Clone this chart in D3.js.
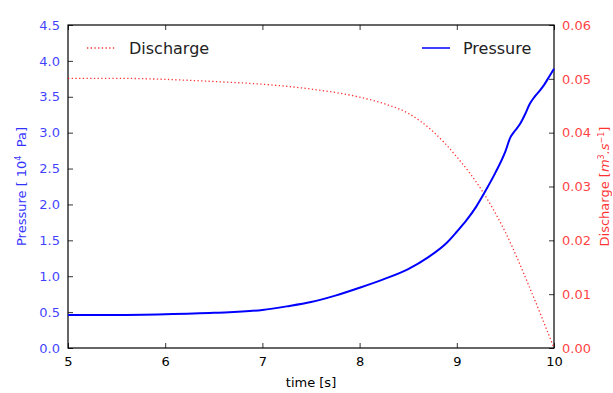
<!DOCTYPE html>
<html>
<head>
<meta charset="utf-8">
<script src="https://cdn.jsdelivr.net/npm/d3@7"></script>
<style>
  body { margin: 0; background: #fff; }
  text { font-family: "DejaVu Sans", sans-serif; }
</style>
</head>
<body>
<script>
// Pressure readings (10^4 Pa) over time
const pTime = [5, 5.5, 6, 6.5, 7, 7.25, 7.5, 7.75, 8, 8.25, 8.5, 8.7, 8.9, 9, 9.1, 9.2, 9.3, 9.4, 9.5, 9.55, 9.6, 9.65, 9.7, 9.75, 9.8, 9.85, 9.9, 9.95, 10];
const pressure = [0.46, 0.46, 0.47, 0.49, 0.53, 0.58, 0.64, 0.73, 0.84, 0.96, 1.10, 1.26, 1.47, 1.62, 1.78, 1.97, 2.20, 2.45, 2.74, 2.93, 3.03, 3.12, 3.25, 3.40, 3.50, 3.58, 3.67, 3.78, 3.89];

// Discharge (m^3/s) over time
const qTime = [5, 5.5, 6, 6.5, 7, 7.5, 8, 8.25, 8.5, 8.75, 9, 9.25, 9.5, 9.75, 10];
const discharge = [0.0501, 0.0501, 0.0499, 0.0495, 0.0490, 0.0481, 0.0466, 0.0454, 0.0436, 0.0403, 0.0355, 0.0295, 0.0215, 0.0112, 0.0000];

const xTicks = [5, 6, 7, 8, 9, 10];
const pTicks = [0, 0.5, 1, 1.5, 2, 2.5, 3, 3.5, 4, 4.5];
const qTicks = [0, 0.01, 0.02, 0.03, 0.04, 0.05, 0.06];

const width = 613, height = 393;
const margin = { top: 25, bottom: 45, left: 68, right: 59 };

const svg = d3.select('body').append('svg')
  .attr('width', width).attr('height', height);

const xscale = d3.scaleLinear().domain([5, 10])
  .range([margin.left, width - margin.right]);
const yP = d3.scaleLinear().domain([0, 4.5])
  .range([height - margin.bottom, margin.top]);
const yQ = d3.scaleLinear().domain([0, 0.06])
  .range([height - margin.bottom, margin.top]);

const x0 = margin.left, x1 = width - margin.right;
const y0 = height - margin.bottom, y1 = margin.top;

// axes (ticks inward, classic style)
const xBottom = svg.append('g').attr('transform', `translate(0,${y0})`)
  .call(d3.axisBottom(xscale).tickValues(xTicks).tickSize(-5).tickPadding(9).tickFormat(d3.format('d')));
const xTop = svg.append('g').attr('transform', `translate(0,${y1})`)
  .call(d3.axisTop(xscale).tickValues(xTicks).tickSize(-5).tickFormat(''));
const yLeft = svg.append('g').attr('transform', `translate(${x0},0)`)
  .call(d3.axisLeft(yP).tickValues(pTicks).tickSize(-5).tickPadding(8).tickFormat(d3.format('.1f')));
const yRight = svg.append('g').attr('transform', `translate(${x1},0)`)
  .call(d3.axisRight(yQ).tickValues(qTicks).tickSize(-5).tickPadding(8).tickFormat(d3.format('.2f')));

[xBottom, xTop, yLeft, yRight].forEach(g => {
  g.select('.domain').remove();
  g.selectAll('.tick line').attr('stroke', '#000').attr('stroke-width', 0.8);
  g.selectAll('text').style('font-size', '13px');
});
xBottom.selectAll('text').attr('fill', '#000');
yLeft.selectAll('text').attr('fill', '#0000ff').attr('opacity', 0.75);
yRight.selectAll('text').attr('fill', '#ff0000').attr('opacity', 0.75);

// frame
svg.append('rect')
  .attr('x', x0).attr('y', y1)
  .attr('width', x1 - x0).attr('height', y0 - y1)
  .attr('fill', 'none').attr('stroke', '#000').attr('stroke-width', 1.2);

// lines
const pLine = d3.line().x((d, i) => xscale(pTime[i])).y(d => yP(d)).curve(d3.curveMonotoneX);
const qLine = d3.line().x((d, i) => xscale(qTime[i])).y(d => yQ(d)).curve(d3.curveMonotoneX);

svg.append('path').datum(discharge)
  .attr('d', qLine)
  .attr('fill', 'none').attr('stroke', '#ff0000').attr('stroke-width', 1.3)
  .attr('stroke-dasharray', '1.3,2.4').attr('opacity', 0.8);

svg.append('path').datum(pressure)
  .attr('d', pLine)
  .attr('fill', 'none').attr('stroke', '#0000ff').attr('stroke-width', 2);

// legend
svg.append('line').attr('x1', 87).attr('x2', 115).attr('y1', 48).attr('y2', 48)
  .attr('stroke', '#ff0000').attr('stroke-width', 1.3).attr('stroke-dasharray', '1.3,2.4').attr('opacity', 0.8);
svg.append('text').attr('x', 129).attr('y', 54).text('Discharge')
  .style('font-size', '16px').attr('fill', '#222');

svg.append('line').attr('x1', 422).attr('x2', 450).attr('y1', 48).attr('y2', 48)
  .attr('stroke', '#0000ff').attr('stroke-width', 1.5);
svg.append('text').attr('x', 463).attr('y', 54).text('Pressure')
  .style('font-size', '16px').attr('fill', '#222');

// axis labels
svg.append('text')
  .attr('x', (x0 + x1) / 2).attr('y', 387)
  .attr('text-anchor', 'middle').style('font-size', '13px')
  .text('time [s]');

const lp = svg.append('text')
  .attr('transform', `translate(26,${(y0 + y1) / 2}) rotate(-90)`)
  .attr('text-anchor', 'middle').style('font-size', '13px')
  .attr('fill', '#0000ff').attr('opacity', 0.8);
lp.append('tspan').text('Pressure [ 10');
lp.append('tspan').attr('dy', -5).style('font-size', '8px').text('4');
lp.append('tspan').attr('dy', 5).text('\u00a0\u00a0Pa]');

const lq = svg.append('text')
  .attr('transform', `translate(609,${(y0 + y1) / 2}) rotate(-90)`)
  .attr('text-anchor', 'middle').style('font-size', '13px')
  .attr('fill', '#ff0000').attr('opacity', 0.8);
lq.append('tspan').text('Discharge [');
lq.append('tspan').style('font-style', 'italic').text('m');
lq.append('tspan').attr('dy', -5).style('font-size', '8px').text('3');
lq.append('tspan').attr('dy', 5).style('font-style', 'italic').text('.s');
lq.append('tspan').attr('dy', -5).style('font-size', '8px').text('−1');
lq.append('tspan').attr('dy', 5).text(']');
</script>
</body>
</html>
